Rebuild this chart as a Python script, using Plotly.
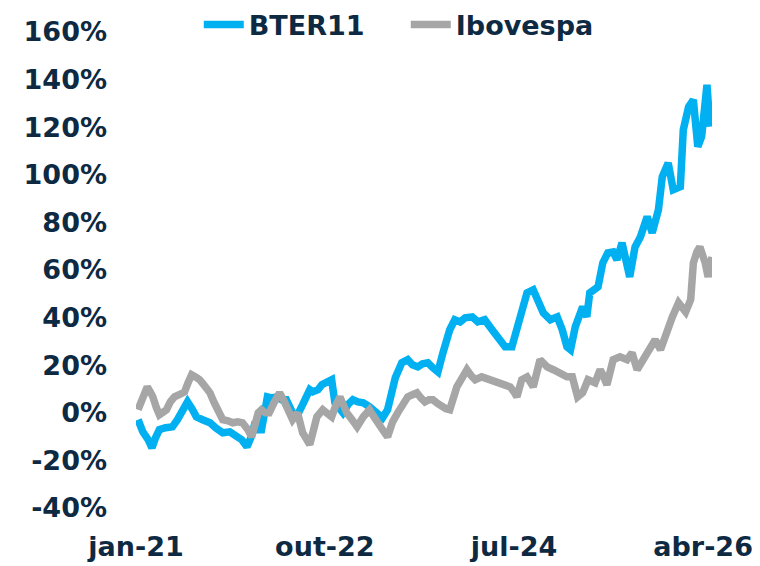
import plotly.graph_objects as go

# BTER11 cumulative return (%)
bter_dates = [
    "2021-01-08","2021-01-24","2021-02-11","2021-02-24","2021-03-08","2021-03-21","2021-04-11","2021-05-04",
    "2021-05-21","2021-06-08","2021-06-24","2021-07-11","2021-07-24","2021-08-14","2021-09-08","2021-09-27",
    "2021-10-21","2021-11-14","2021-12-08","2021-12-24","2022-01-11","2022-01-24","2022-02-08","2022-02-18",
    "2022-03-01","2022-03-11","2022-03-21","2022-04-04","2022-04-21","2022-05-08","2022-05-24","2022-06-14",
    "2022-07-01","2022-07-18","2022-08-11","2022-08-21","2022-09-08","2022-09-21","2022-10-08","2022-10-24",
    "2022-11-04","2022-11-18","2022-12-01","2022-12-18","2023-01-04","2023-01-21","2023-02-08","2023-03-01",
    "2023-03-27","2023-04-14","2023-05-01","2023-05-14","2023-05-27","2023-06-18","2023-07-08","2023-07-24",
    "2023-08-11","2023-08-27","2023-09-14","2023-10-01","2023-10-18","2023-11-04","2023-11-27","2023-12-14",
    "2024-01-01","2024-01-18","2024-02-11","2024-03-01","2024-03-24","2024-04-18","2024-05-08","2024-06-01",
    "2024-06-24","2024-07-11","2024-07-27","2024-08-14","2024-09-04","2024-09-21","2024-10-08","2024-11-01",
    "2024-11-24","2024-12-11","2024-12-27","2025-01-08","2025-01-24","2025-02-18","2025-03-04","2025-03-14",
    "2025-04-11","2025-04-27","2025-05-14","2025-06-01","2025-06-14","2025-07-01","2025-07-14","2025-07-27",
    "2025-08-14","2025-09-01","2025-09-24","2025-10-11","2025-11-01","2025-11-14","2025-12-04","2025-12-21",
    "2026-01-14","2026-01-24","2026-02-11","2026-02-27","2026-03-14","2026-03-27","2026-04-14","2026-04-24",
]
bter_values = [
    -2.9, -8.0, -11.3, -14.7, -10.5, -7.1, -6.3, -5.9,
    -2.9, 1.3, 4.6, 1.3, -1.7, -2.9, -4.2, -6.3,
    -8.4, -8.0, -10.1, -11.3, -14.3, -10.5, -3.8, -7.1,
    -7.1, 1.3, 6.7, 6.3, 6.7, 5.5, 5.5, 0.0,
    -0.8, 3.4, 9.7, 8.8, 9.7, 11.8, 12.6, 13.9,
    4.2, 1.3, 0.0, 3.4, 5.5, 4.6, 4.2, 2.5,
    0.0, -2.1, 1.3, 7.6, 14.7, 21.0, 22.3, 20.2,
    19.3, 20.6, 21.0, 18.9, 17.2, 25.2, 34.9, 39.1,
    38.2, 39.9, 40.3, 38.2, 39.1, 34.9, 31.9, 27.7,
    27.7, 34.9, 42.0, 50.4, 51.7, 46.2, 42.0, 39.1,
    40.3, 34.9, 27.7, 26.5, 36.1, 44.5, 40.3, 50.4,
    52.9, 63.0, 67.2, 67.6, 64.3, 71.4, 65.5, 57.1,
    69.7, 73.9, 82.4, 75.6, 85.3, 99.2, 105.0, 93.7,
    95.0, 118.9, 128.6, 131.5, 111.8, 116.0, 137.8, 120.2,
]

# Ibovespa cumulative return (%)
ibov_dates = [
    "2021-01-08","2021-01-24","2021-02-08","2021-02-18","2021-02-27","2021-03-11","2021-03-21","2021-04-04",
    "2021-04-14","2021-04-27","2021-05-11","2021-05-27","2021-06-14","2021-06-27","2021-07-08","2021-07-21",
    "2021-08-04","2021-08-21","2021-09-08","2021-09-21","2021-10-04","2021-10-21","2021-11-08","2021-11-24",
    "2021-12-11","2021-12-27","2022-01-14","2022-01-27","2022-02-18","2022-03-01","2022-03-14","2022-03-27",
    "2022-04-14","2022-05-01","2022-05-14","2022-05-24","2022-06-04","2022-06-14","2022-07-01","2022-07-18",
    "2022-08-01","2022-08-11","2022-08-24","2022-09-04","2022-09-24","2022-10-11","2022-10-24","2022-11-08",
    "2022-11-21","2022-12-04","2022-12-14","2023-01-01","2023-01-18","2023-02-08","2023-03-01","2023-03-14",
    "2023-03-27","2023-04-14","2023-05-01","2023-05-18","2023-06-04","2023-06-21","2023-07-08","2023-07-24",
    "2023-08-08","2023-08-21","2023-09-04","2023-09-18","2023-10-01","2023-10-18","2023-11-01","2023-11-14",
    "2023-11-27","2023-12-08","2023-12-21","2024-01-08","2024-01-24","2024-02-08","2024-02-21","2024-03-14",
    "2024-04-01","2024-04-18","2024-05-04","2024-05-21","2024-06-04","2024-06-18","2024-07-01","2024-07-11",
    "2024-07-27","2024-08-14","2024-09-04","2024-09-18","2024-09-27","2024-10-11","2024-10-21","2024-11-11",
    "2024-12-04","2024-12-27","2025-01-14","2025-02-01","2025-02-18","2025-03-08","2025-04-01","2025-04-18",
    "2025-04-27","2025-05-11","2025-06-01","2025-06-24","2025-07-18","2025-08-04","2025-08-21","2025-09-11",
    "2025-10-04","2025-10-21","2025-11-08","2025-12-01","2025-12-18","2026-01-08","2026-02-01","2026-02-18",
    "2026-02-27","2026-03-11","2026-03-21","2026-04-08","2026-04-18","2026-05-01",
]
ibov_values = [
    1.3, 6.3, 10.9, 8.8, 6.7, 2.1, -0.8, 0.4,
    1.3, 4.6, 6.7, 7.6, 8.8, 13.0, 16.0, 15.1,
    13.9, 11.3, 8.4, 4.6, 1.3, -2.9, -3.4, -4.2,
    -3.8, -4.2, -7.1, -10.1, 0.0, 1.3, 0.0, 0.0,
    4.6, 8.4, 5.5, 2.5, -0.4, -2.9, 0.0, -8.4,
    -11.3, -13.4, -7.1, -1.7, 1.3, -0.4, -1.7, 3.4,
    6.7, 2.9, 0.0, -2.9, -5.9, -1.7, 1.3, -1.3,
    -4.2, -7.1, -10.1, -3.8, 0.0, 3.4, 6.7, 7.6,
    8.4, 6.3, 4.6, 5.5, 5.5, 3.8, 2.5, 1.7,
    1.3, 6.3, 10.9, 14.7, 18.1, 15.5, 13.9, 15.1,
    14.3, 13.9, 13.4, 12.6, 11.8, 10.9, 8.8, 6.7,
    13.9, 15.1, 10.9, 17.2, 22.3, 20.6, 19.3, 18.1,
    16.8, 15.1, 15.1, 6.7, 8.4, 13.9, 12.6, 18.1,
    16.0, 11.8, 22.3, 23.5, 22.3, 25.2, 18.1, 22.3,
    27.7, 30.7, 26.5, 34.9, 40.3, 46.2, 42.4, 47.5,
    63.0, 67.6, 69.7, 63.0, 57.1, 65.5,
]

# Axis labels
y_ticks = [-40, -20, 0, 20, 40, 60, 80, 100, 120, 140, 160]
y_tick_labels = ["-40%", "-20%", "0%", "20%", "40%", "60%", "80%", "100%", "120%", "140%", "160%"]
x_tick_dates = ["2021-01-01", "2022-10-01", "2024-07-01", "2026-04-01"]
x_tick_labels = ["jan-21", "out-22", "jul-24", "abr-26"]

TEXT = "#0E2A43"
FONT = "DejaVu Sans, sans-serif"
FS = 27

fig = go.Figure()
fig.add_trace(go.Scatter(x=bter_dates, y=bter_values, mode="lines", name="BTER11",
                         line=dict(color="#00B0F0", width=7.5)))
fig.add_trace(go.Scatter(x=ibov_dates, y=ibov_values, mode="lines", name="Ibovespa",
                         line=dict(color="#A6A6A6", width=7.5)))

fig.update_layout(
    width=752, height=558,
    margin=dict(l=128, r=48, t=24, b=58, autoexpand=False),
    paper_bgcolor="white", plot_bgcolor="white",
    font=dict(family=FONT, size=FS, color=TEXT, weight="bold"),
    showlegend=True,
    legend=dict(orientation="h", x=0.109, xanchor="left", y=1.015, yanchor="middle",
                font=dict(size=FS, color=TEXT, family=FONT, weight="bold"),
                bgcolor="rgba(0,0,0,0)", itemwidth=40, tracegroupgap=0,
                entrywidth=152, entrywidthmode="pixels"),
    xaxis=dict(range=["2021-01-01", "2026-05-01"], tickvals=x_tick_dates, ticktext=x_tick_labels,
               showgrid=False, zeroline=False, showline=False, ticks="", automargin=False,
               ticklabelstandoff=20,
               tickfont=dict(size=FS, color=TEXT, family=FONT, weight="bold")),
    yaxis=dict(range=[-40, 160], tickvals=y_ticks, ticktext=y_tick_labels,
               showgrid=False, zeroline=False, showline=False, ticks="", automargin=False,
               ticklabelstandoff=28,
               tickfont=dict(size=FS, color=TEXT, family=FONT, weight="bold")),
)

fig.write_html("out.html")
